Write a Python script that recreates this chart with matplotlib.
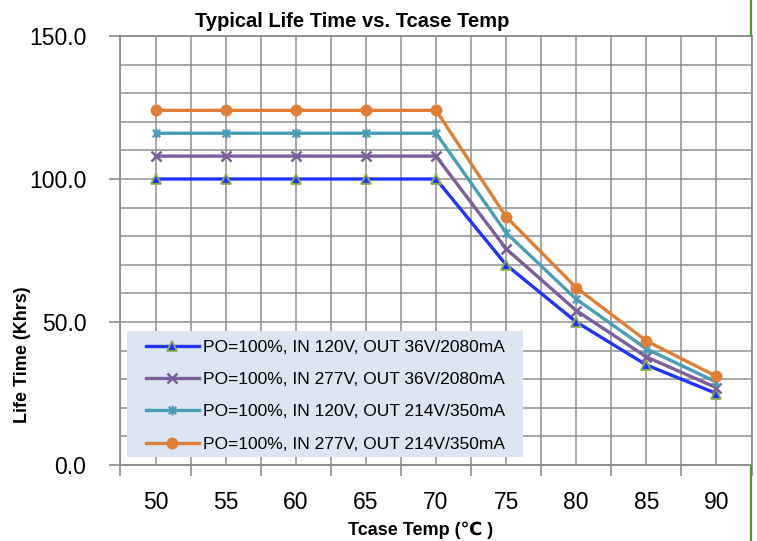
import matplotlib
matplotlib.use("Agg")
import matplotlib.pyplot as plt
from matplotlib.path import Path
from matplotlib.patches import Rectangle
from matplotlib.lines import Line2D
import numpy as np

# ---- data ----
temps = ["50", "55", "60", "65", "70", "75", "80", "85", "90"]
series_labels = [
    "PO=100%, IN 120V, OUT 36V/2080mA",
    "PO=100%, IN 277V, OUT 36V/2080mA",
    "PO=100%, IN 120V, OUT 214V/350mA",
    "PO=100%, IN 277V, OUT 214V/350mA",
]
life_120_36 = [100, 100, 100, 100, 100, 70, 50, 35, 25]
life_277_36 = [108, 108, 108, 108, 108, 75.6, 54, 37.8, 27]
life_120_214 = [116, 116, 116, 116, 116, 81.2, 58, 40.6, 29]
life_277_214 = [124, 124, 124, 124, 124, 86.8, 62, 43.4, 31]
y_ticks = [0, 50, 100, 150]
y_tick_labels = ["0.0", "50.0", "100.0", "150.0"]

W, H = 757, 541
FAM = ["Liberation Sans", "DejaVu Sans"]
plt.rcParams["font.family"] = FAM

fig = plt.figure(figsize=(W / 100, H / 100), dpi=100)
fig.patch.set_facecolor("white")

def fx(px):
    return px / W

def fy(py):
    return 1 - py / H

ax = fig.add_axes([fx(120.5), fy(465), fx(751.5) - fx(120.5), fy(36) - fy(465)])
ax.set_facecolor("white")

x = np.arange(len(temps))

star = Path(
    [(-1, -1), (1, 1), (-1, 1), (1, -1), (0, -1.3), (0, 1.3)],
    [Path.MOVETO, Path.LINETO, Path.MOVETO, Path.LINETO, Path.MOVETO, Path.LINETO],
)

styles = [
    dict(color="#2233FF", marker="^", markersize=6.5, markerfacecolor="#2233FF",
         markeredgecolor="#8DB050", markeredgewidth=1.3),
    dict(color="#7B5E9A", marker="x", markersize=6.5, markeredgewidth=1.8),
    dict(color="#4A9DB5", marker=star, markersize=7, markerfacecolor="none",
         markeredgecolor="#4A9DB5", markeredgewidth=1.6),
    dict(color="#E07E35", marker="o", markersize=7.5, markeredgecolor="#E07E35"),
]
series = [life_120_36, life_277_36, life_120_214, life_277_214]

handles = []
for vals, lab, st in zip(series, series_labels, styles):
    (h,) = ax.plot(x, vals, linewidth=2.4, label=lab, zorder=4, clip_on=False, **st)
    handles.append(h)

ax.set_xlim(-0.5, 8.5)
ax.set_ylim(0, 150)

# y ticks
ax.set_yticks(y_ticks)
ax.set_yticklabels(y_tick_labels)
ax.set_yticks(np.arange(0, 151, 10), minor=True)
ax.tick_params(axis="y", which="major", direction="out", length=8, width=1.2,
               color="#8c8c8c", labelsize=16.5, pad=16.5)
ax.tick_params(axis="y", which="minor", length=0)

# x ticks: majors at category boundaries, labels at centres (minor)
ax.set_xticks(np.arange(-0.5, 8.6, 1.0))
ax.set_xticklabels([])
ax.set_xticks(x, minor=True)
ax.set_xticklabels(temps, minor=True)
ax.tick_params(axis="x", which="major", direction="out", length=8, width=1.2,
               color="#8c8c8c")
ax.tick_params(axis="x", which="minor", length=0, labelsize=16.5, pad=19)

# grid
for gx in np.arange(-0.5, 8.51, 0.5):
    ax.axvline(gx, color="#8f8f8f", linewidth=1.1, zorder=1)
for gy in np.arange(0, 151, 10):
    ax.axhline(gy, color="#8f8f8f", linewidth=1.1, zorder=1)

for s in ax.spines.values():
    s.set_color("#8c8c8c")
    s.set_linewidth(1.3)

# legend background
ax.add_patch(Rectangle((fx(127), fy(457)), fx(523) - fx(127), fy(331) - fy(457),
                       transform=fig.transFigure, facecolor="#DCE6F2",
                       edgecolor="none", zorder=3, clip_on=False))
leg = ax.legend(handles=handles, loc="upper left",
                bbox_to_anchor=(fx(146), fy(340)), bbox_transform=fig.transFigure,
                frameon=False, fontsize=12.5, handlelength=3.05, handletextpad=0.25,
                labelspacing=0.98, borderpad=0, borderaxespad=0)
leg.set_zorder(6)

# texts
fig.text(fx(352), fy(27), "Typical Life Time vs. Tcase Temp", ha="center",
         va="baseline", fontsize=14.5, fontweight="bold")
fig.text(fx(421), fy(535), "Tcase Temp (\u2103 )", ha="center", va="baseline",
         fontsize=13, fontweight="bold")
fig.text(fx(23), fy(355), "Life Time (Khrs)", ha="center", va="center",
         rotation=90, fontsize=13, fontweight="bold")

# green border artifact on the right
fig.add_artist(Line2D([fx(750.5), fx(750.5)], [1, fy(35)], color="#4E9A2A", linewidth=1.6))
fig.add_artist(Line2D([fx(750.5), fx(750.5)], [fy(466), 0], color="#4E9A2A", linewidth=1.6))

fig.savefig("out.png", dpi=100, facecolor="white")
